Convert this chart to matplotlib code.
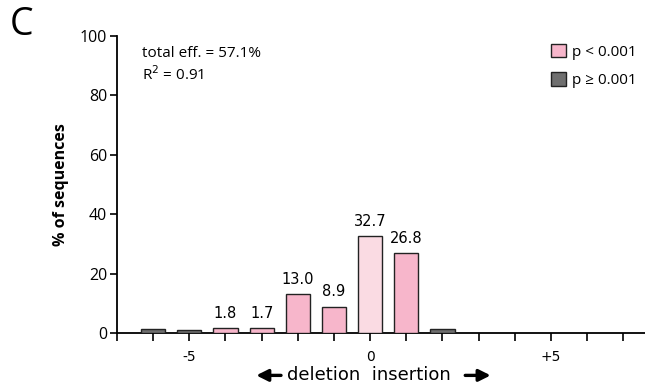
import matplotlib.pyplot as plt
from matplotlib.patches import Patch

plt.rcParams['font.family'] = ['Open Sans', 'DejaVu Sans']

# indel size vs % of sequences
sizes = [-6, -5, -4, -3, -2, -1, 0, 1, 2]
percent = [1.2, 1.0, 1.8, 1.7, 13.0, 8.9, 32.7, 26.8, 1.5]
significant = [False, False, True, True, True, True, True, True, False]
labels = ['', '', '1.8', '1.7', '13.0', '8.9', '32.7', '26.8', '']
xtick_pos = list(range(-7, 8))
xtick_lab = ['-5' if t == -5 else '0' if t == 0 else '+5' if t == 5 else '' for t in xtick_pos]

pink = '#f7b6cb'
pale = '#fadbe3'
grey = '#6f6f6f'

fig = plt.figure(figsize=(6.45, 3.89), dpi=100)
ax = fig.add_axes([0.1814, 0.144, 0.8186, 0.7635])

colors = []
for s, sig in zip(sizes, significant):
    if not sig:
        colors.append(grey)
    elif s == 0:
        colors.append(pale)
    else:
        colors.append(pink)

ax.bar(sizes, percent, width=0.67, color=colors, edgecolor='#222222', linewidth=1.0, zorder=3)
for s, p, lab in zip(sizes, percent, labels):
    if lab:
        ax.text(s, p + 2.4, lab, ha='center', va='bottom', fontsize=10.5, family='DejaVu Sans')

ax.set_xlim(-7, 7.6)
ax.set_ylim(0, 100)
ax.set_yticks([0, 20, 40, 60, 80, 100])
ax.set_xticks(xtick_pos)
ax.set_xticklabels(xtick_lab, family='DejaVu Sans', fontsize=10)
ax.tick_params(axis='y', labelsize=11.5, length=5, width=1.2, pad=2)
ax.tick_params(axis='x', length=6, width=1.2, pad=6)
for side in ['top', 'right']:
    ax.spines[side].set_visible(False)
for side in ['left', 'bottom']:
    ax.spines[side].set_linewidth(1.3)
ax.spines['left'].set_position(('data', -7))

ax.set_ylabel('% of sequences', fontsize=11.5, fontweight='bold', labelpad=8)

ax.text(-6.3, 94, 'total eff. = 57.1%', fontsize=11, va='center')
ax.text(-6.3, 87, 'R$^2$ = 0.91', fontsize=11, va='center')

handles = [Patch(facecolor=pink, edgecolor='#222222', label='p < 0.001'),
           Patch(facecolor=grey, edgecolor='#222222', label='p \u2265 0.001')]
ax.legend(handles=handles, loc='upper right', bbox_to_anchor=(1.01, 1.02), frameon=False,
          fontsize=11, handlelength=1.0, handleheight=1.0, handletextpad=0.4, labelspacing=0.8)

# deletion / insertion caption with arrows
fig.text(0.5725, 0.035, 'deletion  insertion', ha='center', va='center', fontsize=13, family='DejaVu Sans')
fig.add_artist(plt.Annotation('', xy=(0.393, 0.035), xytext=(0.44, 0.035), xycoords='figure fraction',
                              arrowprops=dict(arrowstyle='-|>,head_length=0.7,head_width=0.35', color='black', lw=2.4)))
fig.add_artist(plt.Annotation('', xy=(0.765, 0.035), xytext=(0.717, 0.035), xycoords='figure fraction',
                              arrowprops=dict(arrowstyle='-|>,head_length=0.7,head_width=0.35', color='black', lw=2.4)))

fig.text(0.015, 0.935, 'C', fontsize=27, va='center')

fig.savefig('out.png', dpi=100)
